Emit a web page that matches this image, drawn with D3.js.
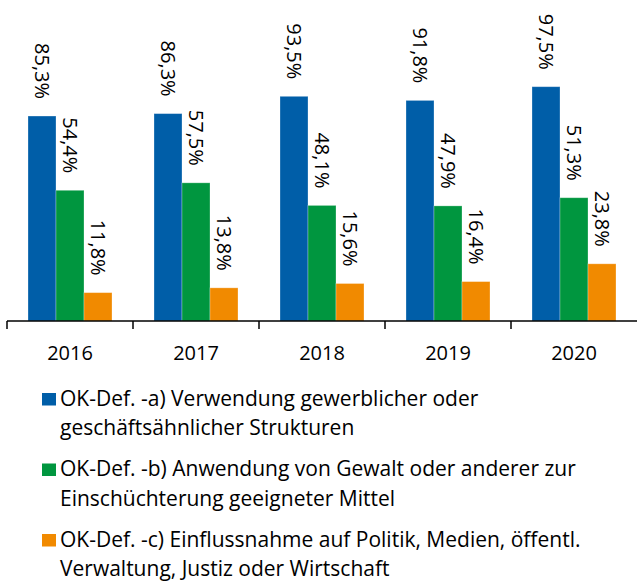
<!DOCTYPE html>
<html><head><meta charset="utf-8">
<script src="https://cdn.jsdelivr.net/npm/d3@7"></script>
<style>body{margin:0;background:#fff}</style>
</head><body>
<svg id="c" width="637" height="581"></svg>
<script>
const years = ["2016","2017","2018","2019","2020"];
const seriesA = [85.3, 86.3, 93.5, 91.8, 97.5];
const seriesB = [54.4, 57.5, 48.1, 47.9, 51.3];
const seriesC = [11.8, 13.8, 15.6, 16.4, 23.8];
const seriesNames = [
  ["OK-Def. -a) Verwendung gewerblicher oder", "geschäftsähnlicher Strukturen"],
  ["OK-Def. -b) Anwendung von Gewalt oder anderer zur", "Einschüchterung geeigneter Mittel"],
  ["OK-Def. -c) Einflussnahme auf Politik, Medien, öffentl.", "Verwaltung, Justiz oder Wirtschaft"]
];
const colors = ["#005ea8", "#00963f", "#f18a00"];
const series = [seriesA, seriesB, seriesC];

const svg = d3.select("#c");
const font = "'Open Sans', sans-serif";
const x0 = d3.scaleBand().domain(years).range([7, 637]).paddingInner(0).paddingOuter(0);
const x1 = d3.scaleBand().domain([0,1,2]).range([21, x0.bandwidth()-21]);
const y = d3.scaleLinear().domain([0, 100]).range([321, 80.7]);

const fmt = v => v.toFixed(1).replace(".", ",") + "%";

series.forEach((s, si) => {
  const g = svg.append("g");
  g.selectAll("rect").data(s).join("rect")
    .attr("x", (d,i) => x0(years[i]) + x1(si))
    .attr("width", x1.bandwidth())
    .attr("y", d => y(d))
    .attr("height", d => y(0) - y(d))
    .attr("fill", colors[si])
    .attr("stroke", "#ffffff").attr("stroke-opacity", 0.35).attr("stroke-width", 0.8);
  g.selectAll("text").data(s).join("text")
    .attr("transform", (d,i) => `translate(${x0(years[i]) + x1(si) + x1.bandwidth()/2},${y(d) - 17}) rotate(90)`)
    .attr("text-anchor", "end")
    .attr("dominant-baseline", "central")
    .attr("font-family", font).attr("font-size", 20).attr("fill", "#000")
    .text(fmt);
});

// axis
const ax = svg.append("g");
ax.append("line").attr("x1", 7).attr("x2", 637).attr("y1", y(0)).attr("y2", y(0))
  .attr("stroke", "#000").attr("stroke-width", 1.5);
ax.selectAll("line.t").data(years).join("line").attr("class","t")
  .attr("x1", d => x0(d)).attr("x2", d => x0(d))
  .attr("y1", y(0)).attr("y2", y(0) + 8)
  .attr("stroke", "#000").attr("stroke-width", 1.5);
ax.selectAll("text").data(years).join("text")
  .attr("x", d => x0(d) + x0.bandwidth()/2).attr("y", 360)
  .attr("text-anchor", "middle")
  .attr("font-family", font).attr("font-size", 20).attr("fill", "#000")
  .text(d => d);

// legend
const lg = svg.append("g");
seriesNames.forEach((lines, i) => {
  const top = 405.5 + i * 70.5;
  lg.append("rect").attr("x", 42).attr("y", top - 12.5).attr("width", 14).attr("height", 12.5).attr("fill", colors[i]);
  lines.forEach((t, li) => {
    lg.append("text").attr("x", 60).attr("y", top + li * 29.5)
      .attr("font-family", font).attr("font-size", 21).attr("fill", "#000")
      .text(t);
  });
});
</script>
</body></html>
